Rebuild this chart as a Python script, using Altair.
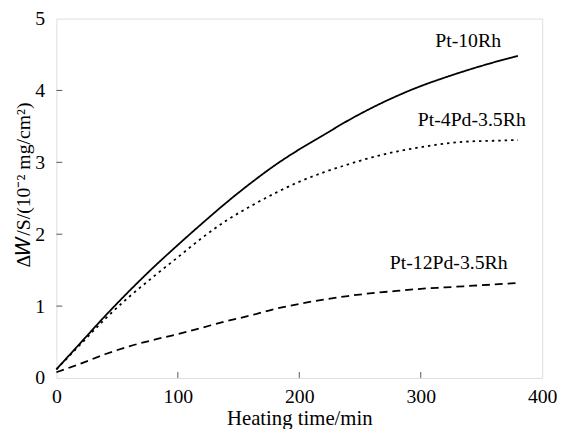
import altair as alt
import pandas as pd

# Heating time (min)
time_min = [0, 20, 40, 60, 80, 100, 120, 140, 160, 180, 200, 220, 240, 260, 280, 300, 320, 340, 360, 380]
# Mass gain ΔW/S (10^-2 mg/cm^2)
pt_10rh = [0.12, 0.49, 0.86, 1.21, 1.54, 1.85, 2.15, 2.44, 2.71, 2.96, 3.18, 3.38, 3.58, 3.76, 3.92, 4.06, 4.18, 4.29, 4.39, 4.48]
pt_4pd = [0.12, 0.47, 0.82, 1.13, 1.41, 1.68, 1.95, 2.19, 2.39, 2.57, 2.73, 2.86, 2.97, 3.07, 3.15, 3.21, 3.26, 3.29, 3.30, 3.31]
pt_12pd = [0.08, 0.20, 0.33, 0.44, 0.53, 0.61, 0.70, 0.79, 0.87, 0.96, 1.03, 1.09, 1.14, 1.18, 1.21, 1.24, 1.26, 1.28, 1.30, 1.32]

series_names = ["Pt-10Rh", "Pt-4Pd-3.5Rh", "Pt-12Pd-3.5Rh"]
label_t = [339, 342, 323]
label_v = [4.68, 3.59, 1.60]

x_ticks = [0, 100, 200, 300, 400]
y_ticks = [0, 1, 2, 3, 4, 5]

W, H = 492, 364
FONT = "Liberation Serif"

rows = []
for name, vals in zip(series_names, [pt_10rh, pt_4pd, pt_12pd]):
    for t, v in zip(time_min, vals):
        rows.append({"series": name, "t": t, "v": v})
df = pd.DataFrame(rows)

labels_df = pd.DataFrame({"series": series_names, "t": label_t, "v": label_v})

xs = alt.Scale(domain=[0, 400], nice=False)
ys = alt.Scale(domain=[0, 5], nice=False)

lines = alt.Chart(df).mark_line(color="black", strokeWidth=1.8, interpolate="monotone").encode(
    x=alt.X("t:Q", scale=xs,
            axis=alt.Axis(values=x_ticks, format="d", title="Heating time/min", grid=False, domain=False,
                          ticks=False, labelPadding=9, labelFlush=False,
                          titleBaseline="alphabetic", titleY=47)),
    y=alt.Y("v:Q", scale=ys,
            axis=alt.Axis(values=y_ticks, format="d", title="Δ𝑊/S/(10⁻² mg/cm²)", grid=False, domain=False,
                          ticks=False, labelPadding=12, labelFlush=False, titleFontSize=20,
                          titleX=-33, titleY=168, titleBaseline="middle")),
    detail="series:N",
    strokeDash=alt.StrokeDash("series:N",
                              scale=alt.Scale(domain=series_names, range=[[1, 0], [2.5, 4], [8, 5]]),
                              legend=None),
)

texts = alt.Chart(labels_df).mark_text(font=FONT, fontSize=20, color="black", align="center",
                                       baseline="middle").encode(
    x=alt.X("t:Q", scale=xs), y=alt.Y("v:Q", scale=ys), text="series:N")

ytick_df = pd.DataFrame({"v": y_ticks[1:-1]})
xtick_df = pd.DataFrame({"t": x_ticks[1:-1]})

yt = alt.Chart(ytick_df).mark_rule(color="#555", strokeWidth=1).encode(
    y=alt.Y("v:Q", scale=ys), x=alt.value(0), x2=alt.value(6))
xt = alt.Chart(xtick_df).mark_rule(color="#555", strokeWidth=1).encode(
    x=alt.X("t:Q", scale=xs), y=alt.value(H), y2=alt.value(H - 6))

chart = alt.layer(lines, texts, yt, xt).properties(
    width=W, height=H,
    padding={"left": 49, "top": 8, "right": 15, "bottom": 49},
    autosize=alt.AutoSizeParams(type="none"),
).configure_view(stroke="#888888", strokeWidth=2).configure(
    background="white", font=FONT
).configure_axis(
    labelFont=FONT, labelFontSize=20, labelColor="black",
    titleFont=FONT, titleFontSize=21, titleFontWeight="normal", titleColor="black"
)

chart.save("out.html", embed_options={"renderer": "svg", "actions": False})
